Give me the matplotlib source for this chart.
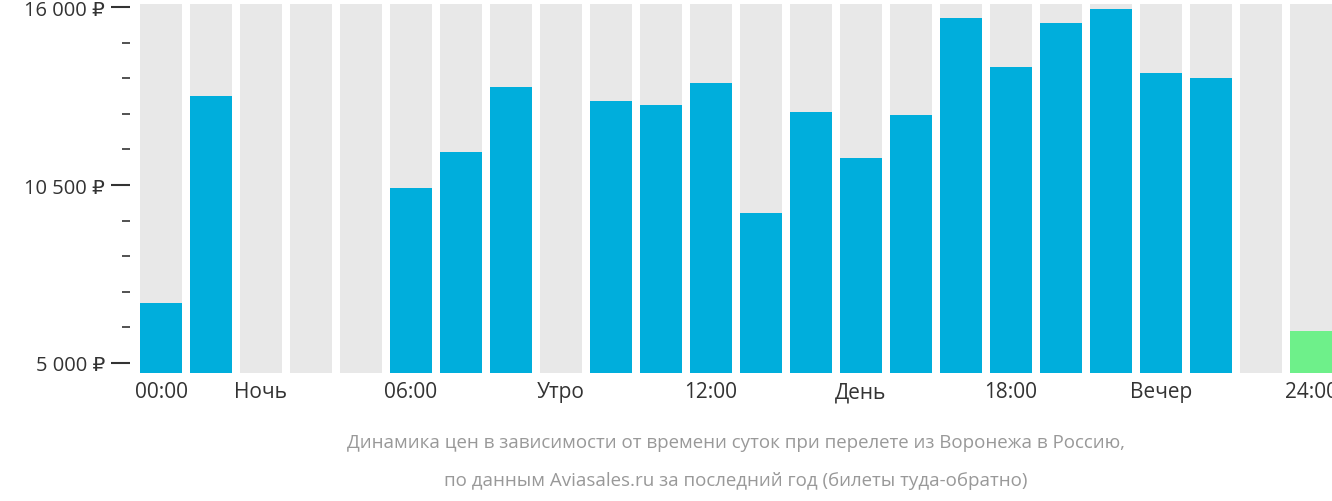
import matplotlib
matplotlib.use("Agg")
import matplotlib.pyplot as plt
import numpy as np

slots = list(range(24))
values = [6854, 13251, None, None, None, 10408, 11520, 13529, None, 13096, 12973, 13653,
          9635, 12757, 11335, 12664, 15661, 14147, 15507, 15940, 13962, 13807, None, 5989]
highlight = [False]*23 + [True]
xtick_pos = [0, 2, 5, 8, 11, 14, 17, 20, 23]
xtick_labels = ["00:00", "Ночь", "06:00", "Утро", "12:00", "День", "18:00", "Вечер", "24:00"]
ytick_major = [5000, 10500, 16000]
ytick_major_labels = ["5 000 ₽", "10 500 ₽", "16 000 ₽"]
ytick_minor = [6100, 7200, 8300, 9400, 11600, 12700, 13800, 14900]

plt.rcParams["font.family"] = ["Open Sans", "DejaVu Sans"]
fig = plt.figure(figsize=(13.32, 5.02), dpi=100)
W, H = 1332, 502
ax = fig.add_axes([130/W, 1-374/H, (1332-130)/W, 374/H])
ymin, ymax = 4690, 16250
ax.set_ylim(ymin, ymax)
ax.set_xlim(-0.62, 23.42)
bw = 0.84
ax.bar(slots, [16100-ymin]*24, bottom=ymin, width=bw, color="#E8E8E8")
for s, v, h in zip(slots, values, highlight):
    if v is not None:
        ax.bar(s, v-ymin, bottom=ymin, width=bw, color="#6EF08A" if h else "#00AEDC")
for sp in ax.spines.values():
    sp.set_visible(False)
ax.set_yticks(ytick_major)
ax.set_yticklabels(ytick_major_labels, fontsize=14.5, color="#333333")
ax.set_yticks(ytick_minor, minor=True)
ax.tick_params(axis="y", which="major", length=14, width=1.5, color="#333333", pad=4)
ax.tick_params(axis="y", which="minor", length=6, width=1.2, color="#333333")
ax.set_xticks(xtick_pos)
ax.set_xticklabels(xtick_labels, fontsize=15, color="#333333")
ax.tick_params(axis="x", length=0, pad=6)
fig.text(736/W, 1-443/H, "Динамика цен в зависимости от времени суток при перелете из Воронежа в Россию,",
         ha="center", va="center", fontsize=13.5, color="#999999")
fig.text(736/W, 1-481/H, "по данным Aviasales.ru за последний год (билеты туда-обратно)",
         ha="center", va="center", fontsize=13.5, color="#999999")
fig.savefig("out.png", dpi=100)
